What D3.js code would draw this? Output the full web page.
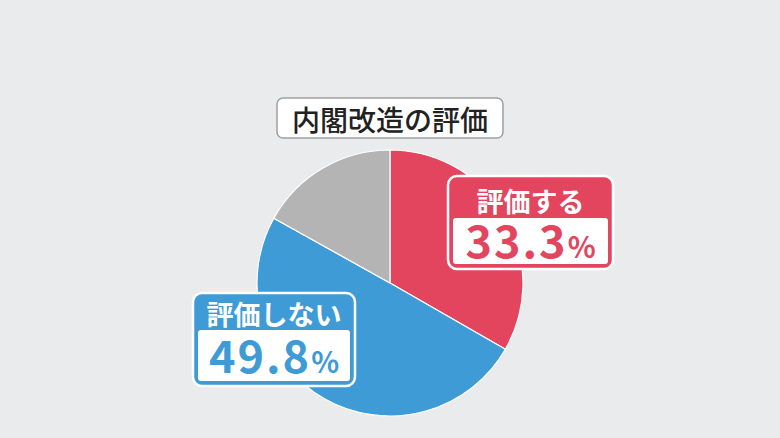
<!DOCTYPE html>
<meta charset="utf-8">
<head>
<style>
body { margin: 0; background: #e9ebec; }
svg { display: block; }
text { font-family: "Noto Sans CJK JP", "Noto Sans", sans-serif; }
</style>
</head>
<body>
<svg width="780" height="438"></svg>
<script src="https://d3js.org/d3.v7.min.js"></script>
<script>

// data
var title = "内閣改造の評価";
var categories = ["評価する", "評価しない", "その他"];
var values = [33.3, 49.8, 16.9];
var colors = ["#e3455f", "#3f9bd6", "#b4b4b4"];

var svg = d3.select("svg"),
    cx = 390, cy = 283, r = 133;

svg.append("rect").attr("width", 780).attr("height", 438).attr("fill", "#e9ebec");

var pie = d3.pie().sort(null).value(function(d) { return d; });
var arc = d3.arc().innerRadius(0).outerRadius(r);

var g = svg.append("g").attr("transform", "translate(" + cx + "," + cy + ")");

g.selectAll("path")
  .data(pie(values))
  .enter().append("path")
    .attr("d", arc)
    .attr("fill", function(d, i) { return colors[i]; })
    .attr("stroke", "#fff")
    .attr("stroke-width", 1.2);

// title box
var tg = svg.append("g");
tg.append("rect")
    .attr("x", 277).attr("y", 98)
    .attr("width", 226).attr("height", 40)
    .attr("rx", 6)
    .attr("fill", "#fff")
    .attr("stroke", "#a0a0a0")
    .attr("stroke-width", 1.5);
tg.append("text")
    .attr("x", 390).attr("y", 119)
    .attr("text-anchor", "middle")
    .attr("dominant-baseline", "central")
    .attr("font-size", 28)
    .attr("font-weight", 500)
    .attr("fill", "#222")
    .text(title);

// label boxes (only the two named answers get one)
var boxes = [
  {i: 0, x: 448, y: 176, w: 165, h: 93, head: 42, nameY: 200, numY: 258},
  {i: 1, x: 193, y: 293, w: 162, h: 93, head: 37, nameY: 313, numY: 373}
];

boxes.forEach(function(b) {
  var c = colors[b.i];
  var lg = svg.append("g");
  lg.append("rect")
      .attr("x", b.x).attr("y", b.y)
      .attr("width", b.w).attr("height", b.h)
      .attr("rx", 9)
      .attr("fill", c)
      .attr("stroke", "#fff")
      .attr("stroke-width", 2.5);
  lg.append("rect")
      .attr("x", b.x + 5).attr("y", b.y + b.head)
      .attr("width", b.w - 10).attr("height", b.h - b.head - 5)
      .attr("rx", 3)
      .attr("fill", "#fff");
  lg.append("text")
      .attr("x", b.x + b.w / 2).attr("y", b.nameY)
      .attr("text-anchor", "middle")
      .attr("dominant-baseline", "central")
      .attr("font-size", 27)
      .attr("font-weight", 700)
      .attr("fill", "#fff")
      .text(categories[b.i]);
  var t = lg.append("text")
      .attr("x", b.x + b.w / 2).attr("y", b.numY)
      .attr("text-anchor", "middle")
      .attr("font-weight", 600)
      .attr("fill", c);
  t.append("tspan").attr("font-size", 45).attr("letter-spacing", 2).text(values[b.i].toFixed(1));
  t.append("tspan").attr("font-size", 29).text("%");
});

</script>
</body>
</html>
